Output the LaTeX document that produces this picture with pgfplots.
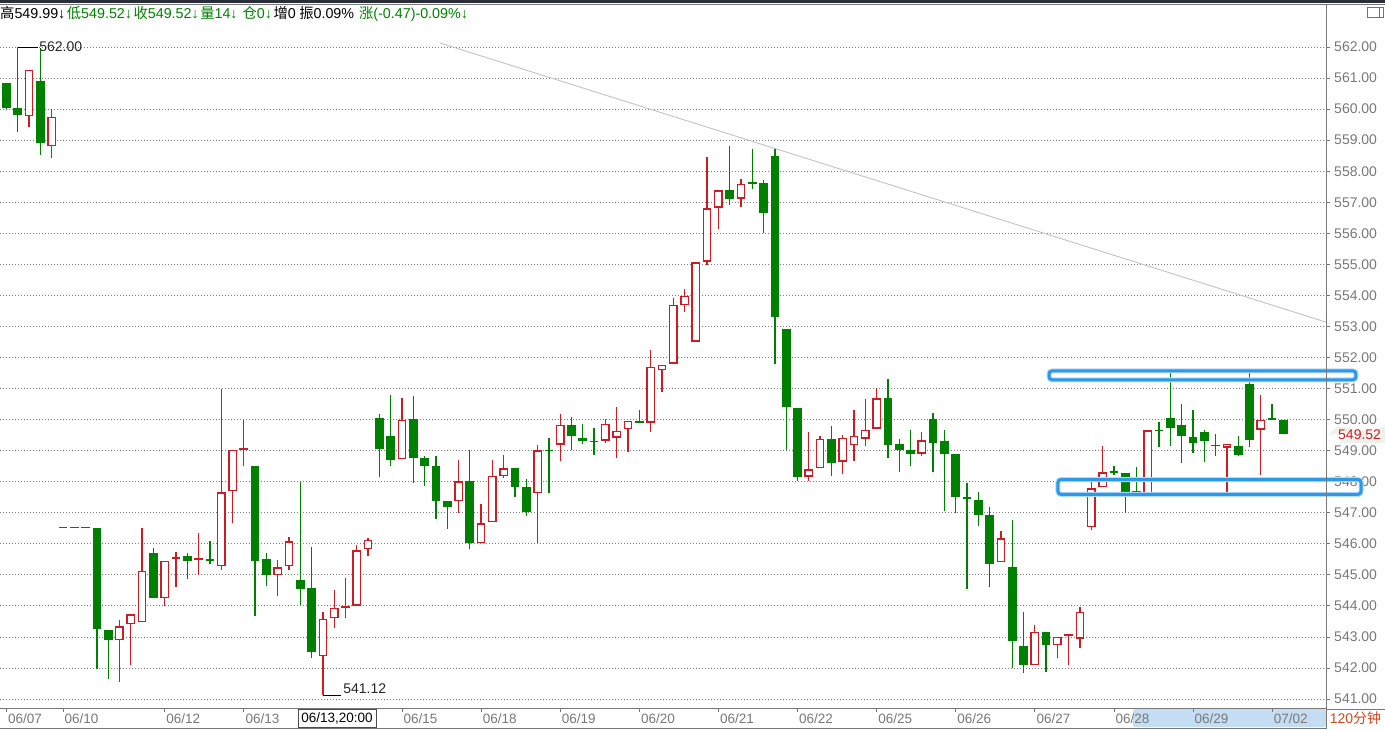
\documentclass[border=0pt]{standalone}
\usepackage{pgfplots}
\pgfplotsset{compat=1.18}
\usepackage{pgfplotstable}
\usepackage{fontspec}
\setmainfont{Liberation Sans}
\newfontfamily\cjk{Noto Sans CJK SC}
\definecolor{cr}{RGB}{204,28,36}
\definecolor{cg}{RGB}{0,128,0}
\definecolor{gridc}{RGB}{125,125,125}
\definecolor{lblc}{RGB}{120,120,120}
\definecolor{bluer}{RGB}{46,152,232}
\definecolor{hl}{RGB}{197,221,242}
\definecolor{trend}{RGB}{195,195,195}
\definecolor{topbar}{RGB}{42,46,57}
\definecolor{iconc}{RGB}{190,90,40}
\definecolor{tagbg}{RGB}{236,243,236}

% up (red, hollow) candles: index open high low close
\pgfplotstableread{
i o h l c
2 559.78 561.27 559.41 561.27
4 558.80 559.99 558.44 559.75
10 542.89 543.55 541.54 543.34
11 543.41 543.75 542.09 543.73
12 543.48 546.50 543.48 545.12
14 544.25 545.45 544.00 545.45
15 545.50 545.74 544.62 545.50
17 545.49 546.35 545.00 545.49
19 545.28 551.00 545.17 547.66
20 547.69 549.02 546.66 549.02
21 549.02 550.00 548.51 549.02
24 544.98 545.48 544.33 545.24
25 545.28 546.21 545.14 546.08
28 542.38 543.80 541.12 543.58
29 543.60 544.52 543.28 543.93
30 543.93 544.90 543.60 544.00
31 544.01 545.97 544.01 545.79
32 545.83 546.19 545.62 546.12
35 548.72 550.69 548.72 550.00
40 547.37 548.70 546.99 548.01
42 546.02 547.28 546.02 546.66
43 546.69 548.70 546.69 548.18
44 548.17 548.86 548.11 548.43
47 547.63 549.17 546.02 549.01
49 549.19 550.18 548.68 549.84
53 549.32 550.01 549.25 549.87
54 549.42 550.40 548.77 549.64
55 549.69 549.97 548.96 549.97
57 549.90 552.23 549.60 551.69
58 551.59 551.77 550.89 551.77
59 551.80 553.90 551.80 553.70
60 553.68 554.20 553.47 553.99
61 552.51 555.06 552.51 555.06
62 555.09 558.45 554.99 556.81
63 556.83 557.38 556.15 557.38
65 557.12 557.76 556.85 557.60
71 548.16 549.60 548.03 548.40
72 548.43 549.46 548.43 549.39
74 548.65 549.49 548.26 549.42
75 549.17 550.30 548.67 549.48
76 549.39 550.65 549.16 549.68
77 549.71 551.03 549.71 550.68
81 548.90 549.60 548.83 549.33
88 545.40 546.41 545.40 546.18
91 542.09 543.38 542.09 543.16
93 542.73 543.00 542.32 543.00
94 543.03 543.09 542.09 543.05
95 542.94 543.98 542.64 543.80
96 546.54 548.02 546.45 547.79
97 547.82 549.15 547.82 548.30
101 547.62 549.65 547.62 549.65
108 549.10 549.22 547.50 549.22
111 549.68 550.79 548.22 550.00
}\upT

% down (green, filled) candles
\pgfplotstableread{
i o h l c
0 560.83 560.85 560.00 560.04
1 560.02 562.00 559.25 559.80
3 560.92 561.97 558.52 558.91
5 546.50 546.50 546.50 546.50
6 546.50 546.50 546.50 546.50
7 546.50 546.50 546.50 546.50
8 546.50 546.50 541.96 543.24
9 543.23 543.23 541.66 542.89
13 545.70 545.87 544.25 544.25
16 545.61 545.71 544.85 545.46
18 545.51 546.09 545.36 545.43
22 548.50 548.50 543.66 545.46
23 545.51 545.71 544.65 544.98
26 544.82 548.00 544.03 544.53
27 544.58 545.89 542.33 542.53
33 550.04 550.17 548.14 549.06
34 549.47 550.79 548.52 548.71
36 550.01 550.75 547.97 548.77
37 548.76 548.82 547.87 548.52
38 548.51 548.82 546.81 547.39
39 547.38 547.38 546.49 547.20
41 548.02 549.02 545.83 546.01
45 548.44 548.44 547.52 547.84
46 547.83 548.09 546.91 547.01
48 549.00 549.40 547.62 548.98
50 549.84 550.07 549.01 549.48
51 549.40 549.85 549.21 549.31
52 549.30 549.74 548.86 549.28
56 549.97 550.30 549.90 549.90
64 557.38 558.80 556.92 557.11
66 557.62 558.71 557.43 557.60
67 557.61 557.73 556.01 556.66
68 558.48 558.73 551.80 553.31
69 552.91 552.91 549.01 550.39
70 550.36 550.36 548.03 548.16
73 549.39 549.78 548.19 548.61
78 550.68 551.30 548.77 549.19
79 549.20 549.36 548.32 549.03
80 549.02 549.68 548.51 548.90
82 550.01 550.21 548.32 549.26
83 549.31 549.68 547.07 548.90
84 548.90 548.90 547.00 547.52
85 547.50 547.95 544.55 547.43
86 547.42 547.67 546.56 546.94
87 546.93 547.18 544.60 545.34
89 545.25 546.77 542.00 542.86
90 542.71 543.80 541.83 542.09
92 543.16 543.16 541.87 542.73
98 548.31 548.51 548.21 548.29
99 548.27 548.27 546.99 547.66
100 547.69 548.46 547.62 547.62
102 549.65 549.91 549.12 549.63
103 550.05 551.59 549.16 549.74
104 549.84 550.51 548.59 549.48
105 549.45 550.30 548.93 549.23
106 549.59 549.68 548.62 549.30
107 549.17 549.53 548.83 549.15
109 549.16 549.46 548.83 548.87
110 551.13 551.59 549.12 549.33
112 550.01 550.51 549.99 549.99
113 549.99 549.99 549.52 549.52
}\dnT

\begin{document}
\begin{tikzpicture}
\path[use as bounding box] (0pt,0pt) rectangle (1385pt,729pt);
\fill[white] (0pt,0pt) rectangle (1385pt,729pt);
% highlight in the date strip
\fill[hl, rounded corners=2pt] (1133pt,2pt) rectangle (1326pt,20pt);

\begin{axis}[
  at={(0pt,21pt)}, anchor=south west,
  scale only axis, width=1326pt, height=686pt,
  xmin=-0.575, xmax=116.77, ymin=540.711, ymax=562.805,
  clip=false,
  axis x line*=bottom, axis y line*=right,
  axis line style={draw=lblc, line width=1pt, -},
  xtick={0,5,14,21,35,42,49,56,63,70,77,84,91,98,105,112},
  xticklabels={06/07,06/10,06/12,06/13,06/15,06/18,06/19,06/20,06/21,06/22,06/25,06/26,06/27,06/28,06/29,07/02},
  ytick={541,542,...,562},
  tick align=outside,
  major tick length=4pt,
  tick style={draw=lblc, line width=0.8pt},
  xticklabel style={anchor=north west, font=\fontsize{13.5}{14}\selectfont, text=lblc, inner sep=0pt, xshift=1.5pt, yshift=-2pt},
  yticklabel style={anchor=west, font=\fontsize{14}{15}\selectfont, text=lblc, inner sep=0pt, xshift=4pt,
    /pgf/number format/.cd, fixed, fixed zerofill, precision=2, assume math mode=true},
  ymajorgrids,
  grid style={draw=gridc, line width=0.8pt, dash pattern=on 1pt off 2pt},
]
% trend line
\addplot[trend, line width=0.9pt] coordinates {(38.36,562.13) (116.77,553.14)};

% wicks
\addplot[draw=none, mark=none, error bars/.cd, y dir=plus, y explicit, error mark=none,
  error bar style={draw=cr, line width=1.25pt}]
  table[x=i, y=l, y error plus expr=\thisrow{h}-\thisrow{l}] {\upT};
\addplot[draw=none, mark=none, error bars/.cd, y dir=plus, y explicit, error mark=none,
  error bar style={draw=cg, line width=1.25pt}]
  table[x=i, y=l, y error plus expr=\thisrow{h}-\thisrow{l}] {\dnT};

% red hollow bodies
\addplot[draw=none, mark=none, error bars/.cd, y dir=plus, y explicit, error mark=none,
  error bar style={draw=cr, line width=8.7pt}]
  table[x=i, y=o, y error plus expr={max(\thisrow{c}-\thisrow{o},0.065)}] {\upT};
\addplot[draw=none, mark=none, error bars/.cd, y dir=plus, y explicit, error mark=none,
  error bar style={draw=white, line width=6pt}]
  table[x=i, y expr=\thisrow{o}+0.044, y error plus expr={max(\thisrow{c}-\thisrow{o}-0.088,0)}] {\upT};

% green filled bodies
\addplot[draw=none, mark=none, error bars/.cd, y dir=plus, y explicit, error mark=none,
  error bar style={draw=cg, line width=8.7pt}]
  table[x=i, y=c, y error plus expr={max(\thisrow{o}-\thisrow{c},0.045)}] {\dnT};

% extreme labels
\draw[black, line width=0.8pt] (axis cs:1,562) -- (axis cs:2.82,562)
  node[anchor=west, inner sep=0.5pt, font=\fontsize{14}{15}\selectfont, text=black!85] {562.00};
\draw[black, line width=0.8pt] (axis cs:28,541.12) -- (axis cs:29.6,541.12)
  node[anchor=base west, inner sep=0pt, xshift=2pt, yshift=2pt, font=\fontsize{14}{15}\selectfont, text=black!85] {541.12};

\coordinate (r1a) at (axis cs:92.26,551.57);
\coordinate (r1b) at (axis cs:119.42,551.28);
\coordinate (r2a) at (axis cs:93.05,548.07);
\coordinate (r2b) at (axis cs:119.87,547.59);
\coordinate (tag) at (axis cs:116.77,549.52);
\end{axis}

% blue boxes
\draw[bluer!35, line width=5pt, rounded corners=3pt] (r1a) rectangle (r1b);
\draw[bluer!35, line width=5pt, rounded corners=3pt] (r2a) rectangle (r2b);
\draw[bluer, line width=3pt, rounded corners=3pt] (r1a) rectangle (r1b);
\draw[bluer, line width=3pt, rounded corners=3pt] (r2a) rectangle (r2b);

% frame pieces
\fill[topbar] (0pt,726pt) rectangle (1385pt,729pt);
\draw[lblc, line width=1pt] (0pt,724.5pt) -- (1385pt,724.5pt);
\draw[lblc, line width=1pt] (1326pt,0pt) -- (1326pt,724.5pt);
\draw[lblc, line width=1pt] (0pt,1pt) -- (1326pt,1pt);

% last-price tag
\fill[tagbg] ([xshift=2pt]tag) -- ++(10pt,8.5pt) -- (1385pt,0|-tag) ++(0,8.5pt) -- ++(0,-17pt) -- ([xshift=12pt,yshift=-8.5pt]tag) -- cycle;
\node[anchor=west, inner sep=0pt, text=cr, font=\fontsize{14}{15}\selectfont] at (1338pt,0|-tag) {549.52};

% top-right icon
\draw[iconc, line width=0.9pt] (1367pt,712pt) rectangle (1383pt,722pt);
\draw[iconc, line width=0.9pt] (1379pt,712pt) -- (1379pt,722pt);

% cursor date box
\draw[black!70, fill=white, line width=0.8pt] (298pt,2pt) rectangle (376pt,20pt);
\node[anchor=center, inner sep=0pt, font=\fontsize{13.5}{14}\selectfont] at (337pt,11pt) {06/13,20:00};

% period box
\draw[lblc, line width=0.8pt] (1326pt,0.5pt) -- (1326pt,20pt) -- (1385pt,20pt);
\node[anchor=center, inner sep=0pt, text=iconc!80!red, font=\fontsize{14}{15}\selectfont] at (1355.5pt,10.5pt) {120{\cjk 分钟}};

% header
\node[anchor=base west, inner sep=0pt, font=\fontsize{14.3}{15}\selectfont] at (0pt,710pt)
 {{\cjk 高}549.99↓\hspace{1.5pt}\textcolor{cg}{{\cjk 低}549.52↓\hspace{1.5pt}{\cjk 收}549.52↓\hspace{1.5pt}{\cjk 量}14↓\hspace{5pt}{\cjk 仓}0↓\hspace{1.5pt}}{\cjk 增}0\hspace{3.5pt}{\cjk 振}0.09\%\hspace{5pt}\textcolor{cg}{{\cjk 涨}(-0.47)-0.09\%↓}};
\end{tikzpicture}
\end{document}
